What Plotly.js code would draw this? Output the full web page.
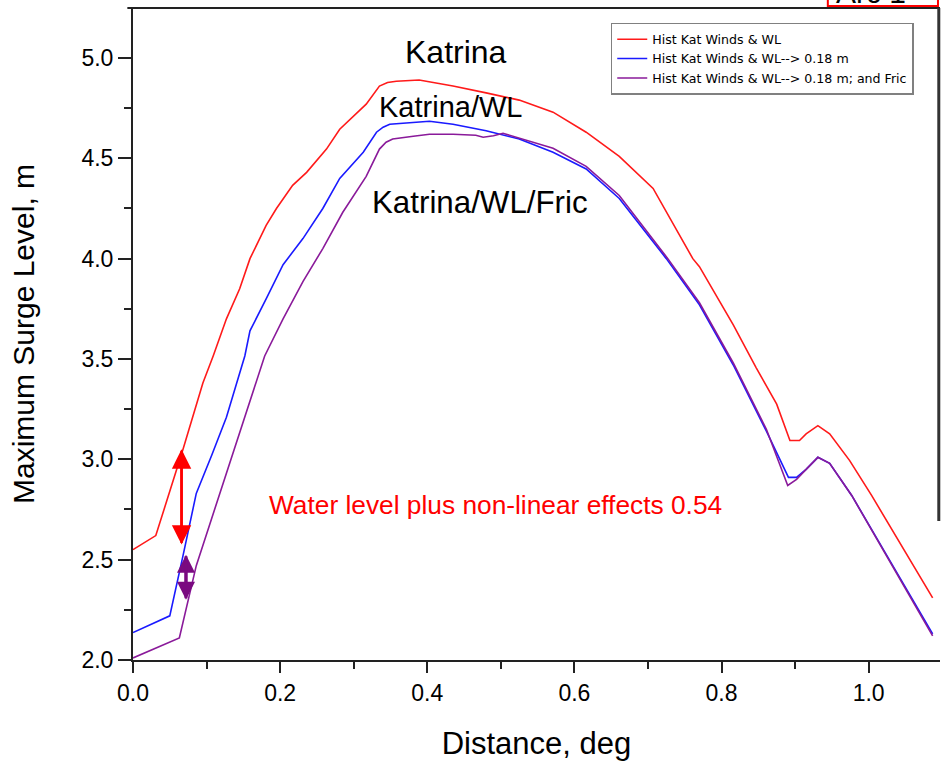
<!DOCTYPE html>
<html>
<head>
<meta charset="utf-8">
<script src="https://cdn.plot.ly/plotly-3.0.1.min.js"></script>
<style>html,body{margin:0;padding:0;background:#fff;}#chart{width:942px;height:764px;}</style>
</head>
<body>
<div id="chart"></div>
<script>
// Series: Hist Kat Winds & WL
var katX = [0, 0.031, 0.068, 0.081, 0.095, 0.109, 0.127, 0.145, 0.159, 0.181, 0.195, 0.217, 0.236, 0.263, 0.281, 0.317, 0.335, 0.346, 0.358, 0.389, 0.435, 0.480, 0.525, 0.571, 0.616, 0.661, 0.707, 0.761, 0.770, 0.816, 0.847, 0.875, 0.893, 0.906, 0.915, 0.931, 0.947, 0.974, 1.004, 1.087];
var katY = [2.55, 2.62, 3.05, 3.21, 3.38, 3.515, 3.70, 3.85, 4.00, 4.166, 4.25, 4.365, 4.43, 4.546, 4.645, 4.77, 4.86, 4.878, 4.884, 4.89, 4.86, 4.826, 4.79, 4.73, 4.63, 4.51, 4.35, 4.00, 3.96, 3.67, 3.457, 3.275, 3.094, 3.094, 3.127, 3.168, 3.127, 2.995, 2.82, 2.31];
// Series: Hist Kat Winds & WL--> 0.18 m
var wlX = [0, 0.050, 0.068, 0.086, 0.107, 0.127, 0.152, 0.159, 0.181, 0.204, 0.231, 0.258, 0.281, 0.313, 0.331, 0.340, 0.349, 0.381, 0.403, 0.435, 0.480, 0.525, 0.571, 0.616, 0.661, 0.725, 0.770, 0.816, 0.861, 0.891, 0.902, 0.915, 0.931, 0.947, 0.977, 1.087];
var wlY = [2.137, 2.22, 2.52, 2.83, 3.02, 3.21, 3.515, 3.64, 3.80, 3.97, 4.10, 4.25, 4.40, 4.53, 4.63, 4.655, 4.67, 4.68, 4.685, 4.67, 4.637, 4.596, 4.53, 4.447, 4.30, 4.00, 3.77, 3.47, 3.14, 2.91, 2.91, 2.95, 3.01, 2.98, 2.82, 2.13];
// Series: Hist Kat Winds & WL--> 0.18 m; and Fric
var fricX = [0, 0.063, 0.086, 0.145, 0.179, 0.204, 0.231, 0.258, 0.285, 0.317, 0.335, 0.344, 0.353, 0.381, 0.403, 0.435, 0.466, 0.476, 0.490, 0.503, 0.525, 0.571, 0.616, 0.661, 0.727, 0.770, 0.816, 0.861, 0.890, 0.902, 0.915, 0.931, 0.947, 0.977, 1.087];
var fricY = [2.01, 2.11, 2.47, 3.14, 3.515, 3.70, 3.886, 4.05, 4.23, 4.41, 4.546, 4.58, 4.596, 4.61, 4.62, 4.62, 4.615, 4.605, 4.612, 4.625, 4.60, 4.55, 4.46, 4.315, 4.00, 3.78, 3.48, 3.15, 2.87, 2.90, 2.95, 3.01, 2.98, 2.82, 2.12];

var seriesNames = ['Hist Kat Winds & WL', 'Hist Kat Winds & WL--> 0.18 m', 'Hist Kat Winds & WL--> 0.18 m; and Fric'];
var seriesColors = ['#ff1a1a', '#1a1aff', '#8a1a9a'];

// Labels on the chart
var labelText = ['Katrina', 'Katrina/WL', 'Katrina/WL/Fric'];
var labelX = [0.4385, 0.432, 0.472];
var labelY = [5.03, 4.754, 4.278];
var labelSize = [32, 29, 31.3];
var noteText = 'Water level plus non-linear effects 0.54';
var noteX = 0.493, noteY = 2.774;

// Double arrows (head / tail in data units)
var redArrow = {x: 0.066, yTop: 3.05, yBot: 2.575};
var purpleArrow = {x: 0.072, yTop: 2.525, yBot: 2.30};

var FONT = 'Arial, "Liberation Sans", sans-serif';

var traces = [
  {x: katX, y: katY, name: seriesNames[0], mode: 'lines', line: {color: seriesColors[0], width: 1.6}},
  {x: wlX, y: wlY, name: seriesNames[1], mode: 'lines', line: {color: seriesColors[1], width: 1.6}},
  {x: fricX, y: fricY, name: seriesNames[2], mode: 'lines', line: {color: seriesColors[2], width: 1.6}}
];

var annotations = [];
for (var i = 0; i < labelText.length; i++) {
  annotations.push({x: labelX[i], y: labelY[i], xref: 'x', yref: 'y', text: labelText[i], showarrow: false,
    font: {family: FONT, size: labelSize[i], color: '#000'}, xanchor: 'center', yanchor: 'middle'});
}
annotations.push({x: noteX, y: noteY, xref: 'x', yref: 'y', text: noteText, showarrow: false,
  font: {family: FONT, size: 26.3, color: '#ff0000'}, xanchor: 'center', yanchor: 'middle'});

function dblArrow(a, color, w, s) {
  return [
    {x: a.x, y: a.yTop, ax: a.x, ay: a.yBot, xref: 'x', yref: 'y', axref: 'x', ayref: 'y', text: '', showarrow: true,
      arrowhead: 2, arrowsize: s, arrowwidth: w, arrowcolor: color},
    {x: a.x, y: a.yBot, ax: a.x, ay: a.yTop, xref: 'x', yref: 'y', axref: 'x', ayref: 'y', text: '', showarrow: true,
      arrowhead: 2, arrowsize: s, arrowwidth: w, arrowcolor: color}
  ];
}
annotations = annotations.concat(dblArrow(redArrow, '#ff0000', 2.5, 1.55));
annotations = annotations.concat(dblArrow(purpleArrow, '#7a0a80', 3, 1.2));

// partially visible boxed label at the very top right
annotations.push({x: 0.915, y: 0.996, xref: 'paper', yref: 'paper', text: 'Arc 1', showarrow: false,
  font: {family: FONT, size: 30, color: '#000'}, xanchor: 'center', yanchor: 'bottom'});

var layout = {
  width: 942, height: 764,
  margin: {l: 133, r: 2, t: 8, b: 104},
  paper_bgcolor: '#fff', plot_bgcolor: '#fff',
  font: {family: FONT, color: '#000'},
  showlegend: true,
  legend: {x: 0.592, y: 0.977, xanchor: 'left', yanchor: 'top', bgcolor: '#fff', bordercolor: '#808080', borderwidth: 1.5,
    font: {family: '"DejaVu Sans", sans-serif', size: 12.6, color: '#000'}, tracegroupgap: 0},
  xaxis: {
    range: [0, 1.097], dtick: 0.2, tick0: 0, tickformat: '.1f',
    showgrid: false, zeroline: false, showline: true, linecolor: '#222', linewidth: 2,
    ticks: 'outside', ticklen: 11, tickwidth: 2, tickcolor: '#222',
    minor: {dtick: 0.1, ticks: 'outside', ticklen: 7, tickwidth: 2, tickcolor: '#222', showgrid: false},
    tickfont: {family: FONT, size: 23, color: '#000'},
    title: {text: 'Distance, deg', font: {family: FONT, size: 31, color: '#000'}, standoff: 28}
  },
  yaxis: {
    range: [2.0, 5.249], dtick: 0.5, tick0: 2, tickformat: '.1f',
    showgrid: false, zeroline: false, showline: true, linecolor: '#222', linewidth: 2,
    ticks: 'outside', ticklen: 13, tickwidth: 2, tickcolor: '#222',
    minor: {dtick: 0.25, ticks: 'outside', ticklen: 7, tickwidth: 2, tickcolor: '#222', showgrid: false},
    tickfont: {family: FONT, size: 23, color: '#000'},
    title: {text: 'Maximum Surge Level, m', font: {family: FONT, size: 30, color: '#000'}, standoff: 38}
  },
  shapes: [
    {type: 'line', xref: 'paper', yref: 'paper', x0: -0.007, x1: 1, y0: 1, y1: 1, line: {color: '#222', width: 2}},
    {type: 'line', xref: 'paper', yref: 'paper', x0: 0.9985, x1: 0.9985, y0: 1, y1: 0.213, line: {color: '#333', width: 3}},
    {type: 'rect', xref: 'paper', yref: 'paper', x0: 0.861, x1: 0.9975, y0: 1.003, y1: 1.06, line: {color: '#ff0000', width: 2}, fillcolor: 'rgba(0,0,0,0)'}
  ],
  annotations: annotations
};

Plotly.newPlot('chart', traces, layout, {displayModeBar: false, staticPlot: true});
</script>
</body>
</html>
